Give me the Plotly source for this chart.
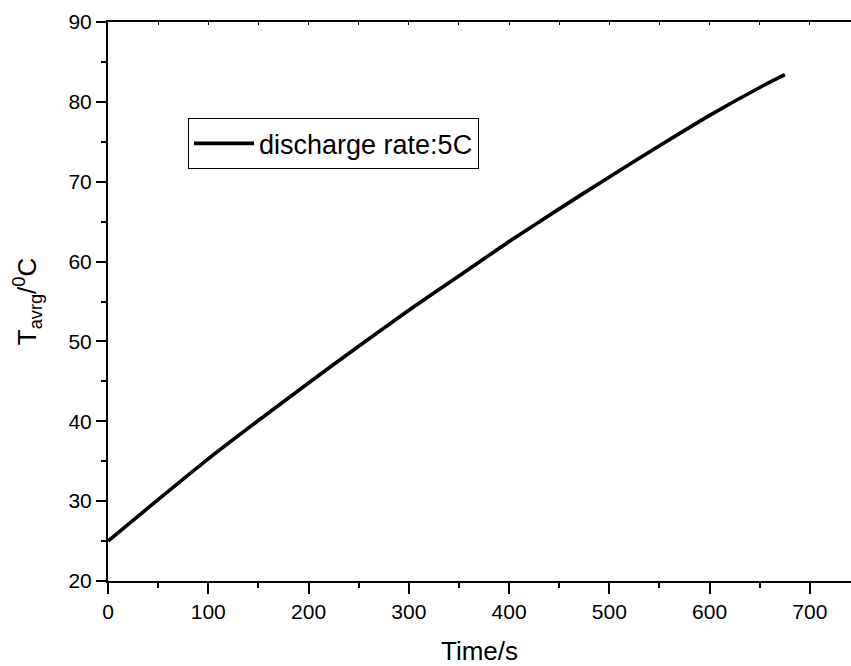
import plotly.graph_objects as go

# Data
time_s = [0, 50, 100, 150, 200, 250, 300, 350, 400, 450, 500, 550, 600, 650, 675]
t_avrg = [25.0, 30.2, 35.3, 40.1, 44.8, 49.4, 53.9, 58.2, 62.5, 66.6, 70.6, 74.5, 78.3, 81.8, 83.4]
series_name = "discharge rate:5C"

x_ticks = [0, 100, 200, 300, 400, 500, 600, 700]
y_ticks = [20, 30, 40, 50, 60, 70, 80, 90]

FONT = "Arial, Liberation Sans, sans-serif"

fig = go.Figure()
fig.add_trace(go.Scatter(
    x=time_s, y=t_avrg, mode="lines", name=series_name,
    line=dict(color="black", width=3.6, shape="spline", smoothing=0.6),
))
# invisible companion trace so the top (mirror) axis is drawn
fig.add_trace(go.Scatter(
    x=time_s, y=t_avrg, mode="lines", xaxis="x2", showlegend=False,
    line=dict(color="rgba(0,0,0,0)", width=0), hoverinfo="skip",
))

fig.update_layout(
    width=851, height=666,
    margin=dict(l=108, r=0, t=22, b=85),
    paper_bgcolor="white", plot_bgcolor="white",
    font=dict(family=FONT, color="black", size=21),
    showlegend=True,
    legend=dict(
        x=0.1077, y=0.782, xanchor="left", yanchor="middle",
        bgcolor="white", bordercolor="black", borderwidth=1,
        font=dict(family=FONT, size=27, color="black"),
        itemwidth=60, tracegroupgap=0,
    ),
    xaxis=dict(
        range=[0, 741], tickvals=x_ticks, ticktext=[str(v) for v in x_ticks],
        showgrid=False, zeroline=False,
        showline=True, linecolor="black", linewidth=2,
        ticks="outside", ticklen=11, tickwidth=2, tickcolor="black",
        minor=dict(ticks="outside", ticklen=5, tickwidth=2, tickcolor="black", dtick=50, tick0=0, showgrid=False),
        tickfont=dict(size=21),
        title=dict(text="Time/s", font=dict(size=26), standoff=22),
    ),
    xaxis2=dict(
        overlaying="x", side="top", matches="x", range=[0, 741],
        showgrid=False, zeroline=False, showticklabels=False,
        showline=True, linecolor="black", linewidth=2,
        ticks="inside", ticklen=3, tickwidth=1, tickcolor="black", dtick=50, tick0=0,
    ),
    yaxis=dict(
        range=[20, 90], tickvals=y_ticks, ticktext=[str(v) for v in y_ticks],
        showgrid=False, zeroline=False,
        showline=True, linecolor="black", linewidth=2,
        ticks="outside", ticklen=10, tickwidth=2, tickcolor="black",
        minor=dict(ticks="outside", ticklen=5, tickwidth=2, tickcolor="black", dtick=5, tick0=0, showgrid=False),
        tickfont=dict(size=21),
        title=dict(text="T<sub>avrg</sub>/<sup>0</sup>C", font=dict(size=26), standoff=24),
    ),
)

fig.write_html("out.html")
